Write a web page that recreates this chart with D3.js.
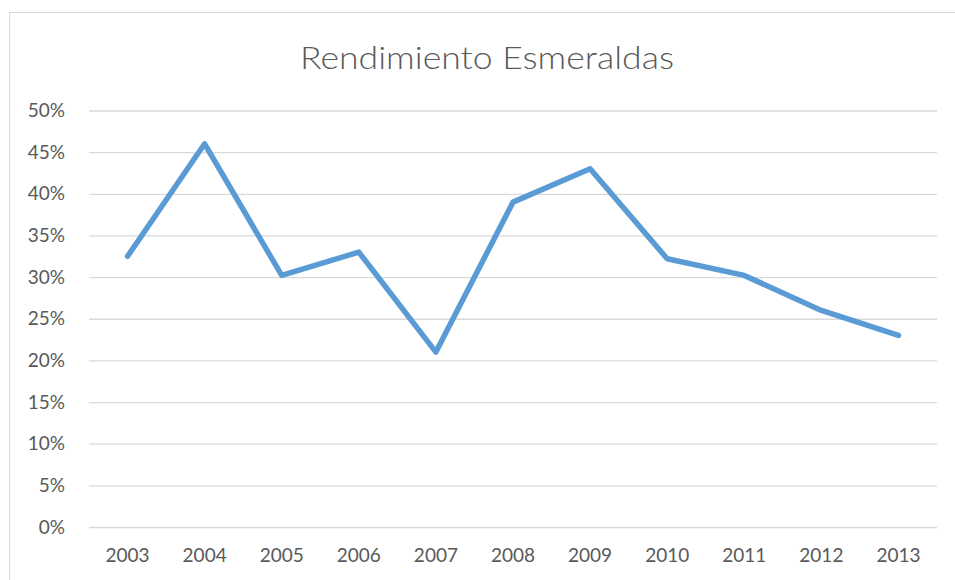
<!DOCTYPE html>
<html><head><meta charset="utf-8">
<script src="https://cdn.jsdelivr.net/npm/d3@7"></script>
<style>body{margin:0;background:#fff;}svg{display:block;}</style>
</head><body>
<script>
const years = ["2003","2004","2005","2006","2007","2008","2009","2010","2011","2012","2013"];
const values = [0.325,0.46,0.302,0.33,0.21,0.39,0.43,0.322,0.302,0.26,0.23];
const yTicks = [0,0.05,0.1,0.15,0.2,0.25,0.3,0.35,0.4,0.45,0.5];
const title = "Rendimiento Esmeraldas";

(function(){
const W=955,H=580;
const svg=d3.select("body").append("svg").attr("width",W).attr("height",H);
svg.append("rect").attr("x",9.5).attr("y",12.5).attr("width",960).attr("height",600)
  .attr("fill","#fff").attr("stroke","#d9d9d9").attr("stroke-width",1);

const mLeft=89,mRight=937,mTop=110.5,mBottom=527;
const x=d3.scaleBand().domain(years).range([mLeft,mRight]);
const y=d3.scaleLinear().domain([0,0.5]).range([mBottom,mTop]);
const font="Lato, 'Open Sans', sans-serif";

svg.append("text").attr("x",487).attr("y",69).attr("text-anchor","middle")
  .attr("font-family",font).attr("font-size",32).attr("font-weight",300).attr("fill","#595959")
  .attr("textLength",374).attr("lengthAdjust","spacingAndGlyphs").text(title);

const yAxis=d3.axisLeft(y).tickValues(yTicks).tickSize(-(mRight-mLeft)).tickFormat(d3.format(".0%")).tickPadding(24);
const gy=svg.append("g").attr("transform",`translate(${mLeft},0)`).call(yAxis);
gy.select(".domain").remove();
gy.selectAll(".tick line").attr("stroke","#d9d9d9").attr("stroke-width",1.3);
gy.selectAll(".tick text").attr("font-family",font).attr("font-size",19).attr("fill","#595959");

const xAxis=d3.axisBottom(x).tickSize(0).tickPadding(22);
const gx=svg.append("g").attr("transform",`translate(0,${mBottom})`).call(xAxis);
gx.select(".domain").remove();
gx.selectAll(".tick text").attr("font-family",font).attr("font-size",19).attr("fill","#595959");

const line=d3.line().x((d,i)=>x(years[i])+x.bandwidth()/2).y(d=>y(d));
svg.append("path").datum(values).attr("d",line).attr("fill","none")
  .attr("stroke","#5b9bd5").attr("stroke-width",5.5).attr("stroke-linejoin","round").attr("stroke-linecap","round");
})();
</script>
</body></html>
